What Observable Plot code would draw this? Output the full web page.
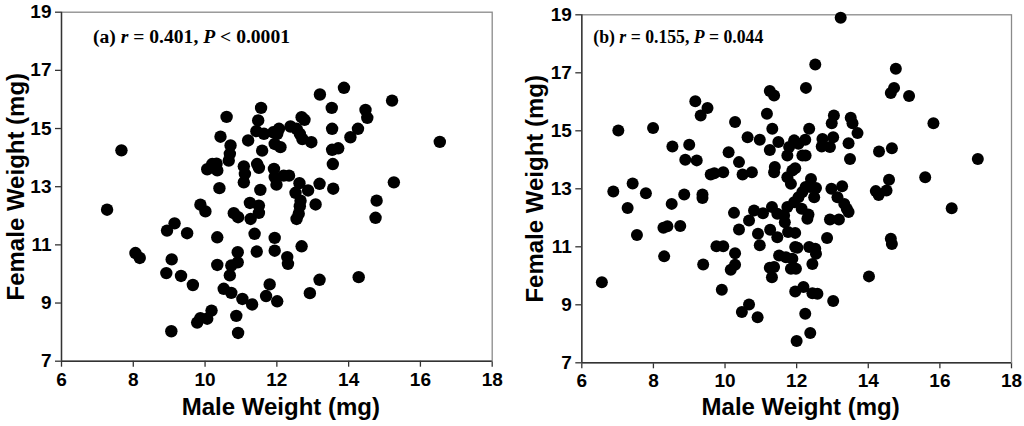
<!DOCTYPE html>
<html>
<head>
<meta charset="utf-8">
<script src="https://cdn.jsdelivr.net/npm/d3@7"></script>
<script src="https://cdn.jsdelivr.net/npm/@observablehq/plot@0.6"></script>
<style>
  html, body { margin: 0; padding: 0; background: #ffffff; }
  #wrap { display: flex; flex-direction: row; width: 1024px; height: 426px; }
</style>
</head>
<body>
<div id="wrap"></div>
<script>
// ---------- data ----------
const xTicks = [6, 8, 10, 12, 14, 16, 18];
const yTicks = [7, 9, 11, 13, 15, 17, 19];
const xTitle = "Male Weight (mg)";
const yTitle = "Female Weight (mg)";

// Panel (a)
const maleA = [7.27,7.67,8.06,8.18,8.92,9.07,8.94,9.15,9.06,9.33,
  9.50,9.66,9.87,10.01,9.78,9.87,10.06,10.18,10.06,10.20,
  10.34,10.32,10.43,10.60,10.40,10.34,10.34,10.52,10.73,10.69,
  10.73,10.91,10.91,10.87,10.92,10.71,10.69,10.66,10.80,10.92,
  11.04,11.31,11.20,11.08,11.11,11.08,11.25,11.27,11.38,11.44,
  11.45,11.50,11.48,11.56,11.43,11.64,11.59,11.54,11.50,11.50,
  11.80,11.70,12.01,11.94,11.94,11.90,12.01,11.94,12.10,11.92,
  11.94,11.99,12.06,12.19,12.34,12.29,12.31,12.38,12.55,12.64,
  12.71,12.96,12.69,12.77,12.63,12.52,12.66,12.64,12.61,12.55,
  12.87,13.08,12.69,12.92,13.19,13.19,13.20,13.87,13.53,13.54,
  13.54,13.71,13.56,13.57,14.05,14.26,14.47,14.52,14.78,14.75,
  14.28,15.21,15.26,16.54];
const femaleA = [12.21,14.25,10.72,10.55,10.03,10.50,11.49,11.74,8.03,9.93,
  11.40,9.62,12.38,12.15,8.33,8.48,8.46,8.74,13.60,13.78,
  13.56,13.79,14.72,15.40,12.95,11.26,10.31,9.49,9.35,9.95,
  10.29,10.40,10.75,8.56,7.97,14.42,14.13,13.90,12.09,11.95,
  9.14,8.95,14.59,13.70,13.44,13.15,12.44,11.89,11.38,10.77,
  13.78,13.65,15.28,15.71,14.91,14.82,14.24,12.89,12.35,12.10,
  9.64,9.24,9.06,11.24,10.80,14.87,14.82,14.47,14.36,13.61,
  13.33,13.07,14.99,13.38,13.38,10.58,10.35,15.07,14.99,14.82,
  14.64,14.53,15.39,15.30,13.12,12.79,12.52,12.33,12.07,11.89,
  12.87,12.39,10.95,9.34,9.80,13.10,16.17,16.40,15.71,14.99,
  14.27,14.32,13.78,12.93,14.70,14.99,15.64,15.37,12.52,11.93,
  9.89,15.96,13.15,14.54];

// Panel (b)
const maleB = [6.56,6.88,7.02,7.28,7.42,7.54,7.79,7.99,8.28,8.39,
  8.30,8.51,8.53,8.75,8.86,8.89,9.00,9.17,9.21,9.32,
  9.51,9.37,9.37,9.39,9.60,9.70,9.76,9.95,9.95,9.91,
  10.10,10.25,10.28,10.28,10.28,10.16,10.39,10.39,10.49,10.75,
  10.63,10.97,10.47,10.67,10.91,10.67,10.81,10.92,10.97,11.06,
  11.17,11.25,11.37,11.32,11.25,11.39,11.37,11.49,11.26,11.31,
  11.46,11.46,11.25,11.37,11.31,11.51,11.70,11.65,11.67,11.76,
  11.96,11.74,11.74,11.84,11.88,11.96,11.74,11.79,11.93,12.05,
  12.24,12.16,12.25,12.35,12.26,12.52,13.23,11.93,12.05,12.16,
  12.25,12.40,12.38,12.54,12.49,12.14,12.33,12.30,11.88,11.96,
  12.02,11.84,11.98,11.96,12.19,12.44,12.58,12.24,12.00,12.38,
  12.35,12.52,12.54,12.44,13.02,12.85,12.93,13.18,12.97,13.27,
  13.14,13.33,13.40,13.45,12.70,12.72,12.93,13.02,12.98,13.04,
  13.51,13.56,13.70,13.45,13.49,14.21,14.29,14.51,14.58,14.30,
  14.66,14.02,14.63,14.66,14.63,14.72,14.77,15.14,15.59,15.82,
  16.33,17.06];
const femaleB = [9.78,12.91,15.01,12.34,13.18,11.41,12.85,15.10,11.66,11.71,
  10.67,12.48,14.46,11.72,12.80,14.00,14.52,16.02,13.98,15.53,
  15.79,12.80,12.68,10.39,13.49,13.54,11.02,11.02,13.57,9.52,
  14.26,12.17,15.30,10.78,10.38,10.21,11.60,13.92,13.49,13.57,
  14.78,14.69,8.75,9.01,8.57,11.91,12.25,11.45,11.05,12.16,
  15.59,16.37,16.22,15.07,14.34,13.75,13.57,14.61,11.59,12.37,
  12.14,11.33,10.28,10.30,9.95,10.70,10.64,12.08,11.85,11.51,
  11.48,12.37,13.40,13.17,13.63,13.71,14.15,14.44,14.67,14.55,
  14.69,14.15,14.15,15.07,16.48,17.29,18.90,12.54,12.71,12.89,
  13.06,13.34,13.06,13.03,12.71,12.31,12.11,11.97,10.59,10.99,
  10.97,10.24,10.24,9.46,9.61,9.40,9.38,8.69,7.75,8.03,
  10.99,10.93,10.76,10.41,9.13,11.30,11.94,11.94,13.00,13.09,
  12.71,12.48,12.31,12.20,14.46,14.72,14.44,14.78,15.26,15.53,
  15.45,15.26,14.92,14.57,14.03,12.92,12.79,12.94,13.31,14.29,
  14.40,9.98,11.28,11.10,16.30,16.48,17.14,16.20,13.40,15.26,
  12.33,14.03];

// annotation pieces: [text, italic]
const annA = [["(a) ", false], ["r", true], [" = 0.401, ", false], ["P", true], [" < 0.0001", false]];
const annB = [["(b) ", false], ["r", true], [" = 0.155, ", false], ["P", true], [" = 0.044", false]];

// ---------- drawing ----------
function panel(male, female, ann, lay) {
  const pts = male.map((m, i) => ({male: m, female: female[i]}));
  const plot = Plot.plot({
    width: 512,
    height: 426,
    marginLeft: lay.ml, marginRight: lay.mr, marginTop: lay.mt, marginBottom: lay.mb,
    style: {fontFamily: "'Liberation Sans', Arial, sans-serif", fontSize: "19px", fontWeight: "bold", color: "#000", background: "#fff"},
    x: {domain: [6, 18], ticks: xTicks, tickSize: 6, tickPadding: 5, label: null},
    y: {domain: [7, 19], ticks: yTicks, tickSize: 6, tickPadding: 4, label: null},
    marks: [
      Plot.frame({stroke: "#8a8a8a", strokeWidth: 1.3}),
      Plot.ruleX([6], {stroke: "#333", strokeWidth: 1.4}),
      Plot.ruleY([7], {stroke: "#333", strokeWidth: 1.4}),
      Plot.dot(pts, {x: "male", y: "female", r: lay.r, fill: "#000", stroke: "none"}),
      Plot.text([xTitle], {text: d => d, frameAnchor: "bottom", textAnchor: "middle", lineAnchor: "middle",
        dx: lay.xtdx, dy: lay.xtdy, fontSize: 24, fontWeight: "bold", fill: "#000"}),
      Plot.text([yTitle], {text: d => d, frameAnchor: "left", textAnchor: "middle", lineAnchor: "middle", rotate: -90,
        dx: lay.ytdx, dy: lay.ytdy, fontSize: 24, fontWeight: "bold", fill: "#000"})
    ]
  });
  const svg = d3.select(plot);
  // tick labels: bold, larger
  svg.selectAll("g[aria-label*='tick label'] text, g.tick text")
    .style("font-size", "19px").style("font-weight", "bold").style("fill", "#000");
  svg.selectAll("g[aria-label*='tick label'], g[aria-label*='tick']")
    .style("font-size", "19px").style("font-weight", "bold");
  svg.selectAll("g[aria-label$='-axis tick']").attr("stroke", "#333").style("stroke-width", "1.3px");
  const t = svg.append("text")
    .attr("x", lay.ax).attr("y", lay.ay)
    .attr("text-anchor", "start")
    .style("text-anchor", "start")
    .attr("font-family", "'Liberation Serif', 'Times New Roman', serif")
    .attr("font-size", 18).attr("font-weight", "bold").attr("fill", "#000")
    .attr("textLength", lay.aw).attr("lengthAdjust", "spacingAndGlyphs");
  ann.forEach(([s, it]) => {
    t.append("tspan").attr("font-style", it ? "italic" : "normal").text(s);
  });
  t.style("white-space", "pre");
  return plot;
}

const wrap = document.getElementById("wrap");
wrap.appendChild(panel(maleA, femaleA, annA,
  {ml: 61, mr: 20.3, mt: 11.7, mb: 65.3, r: 6.2, xtdx: 4, xtdy: 46.6, ytdx: -45, ytdy: 0, ax: 93, ay: 43.3, aw: 197}));
wrap.appendChild(panel(maleB, femaleB, annB,
  {ml: 69.3, mr: 13, mt: 14.3, mb: 63.7, r: 6.0, xtdx: 4, xtdy: 45, ytdx: -46.5, ytdy: 0, ax: 81.3, ay: 43.3, aw: 170}));
</script>
</body>
</html>
